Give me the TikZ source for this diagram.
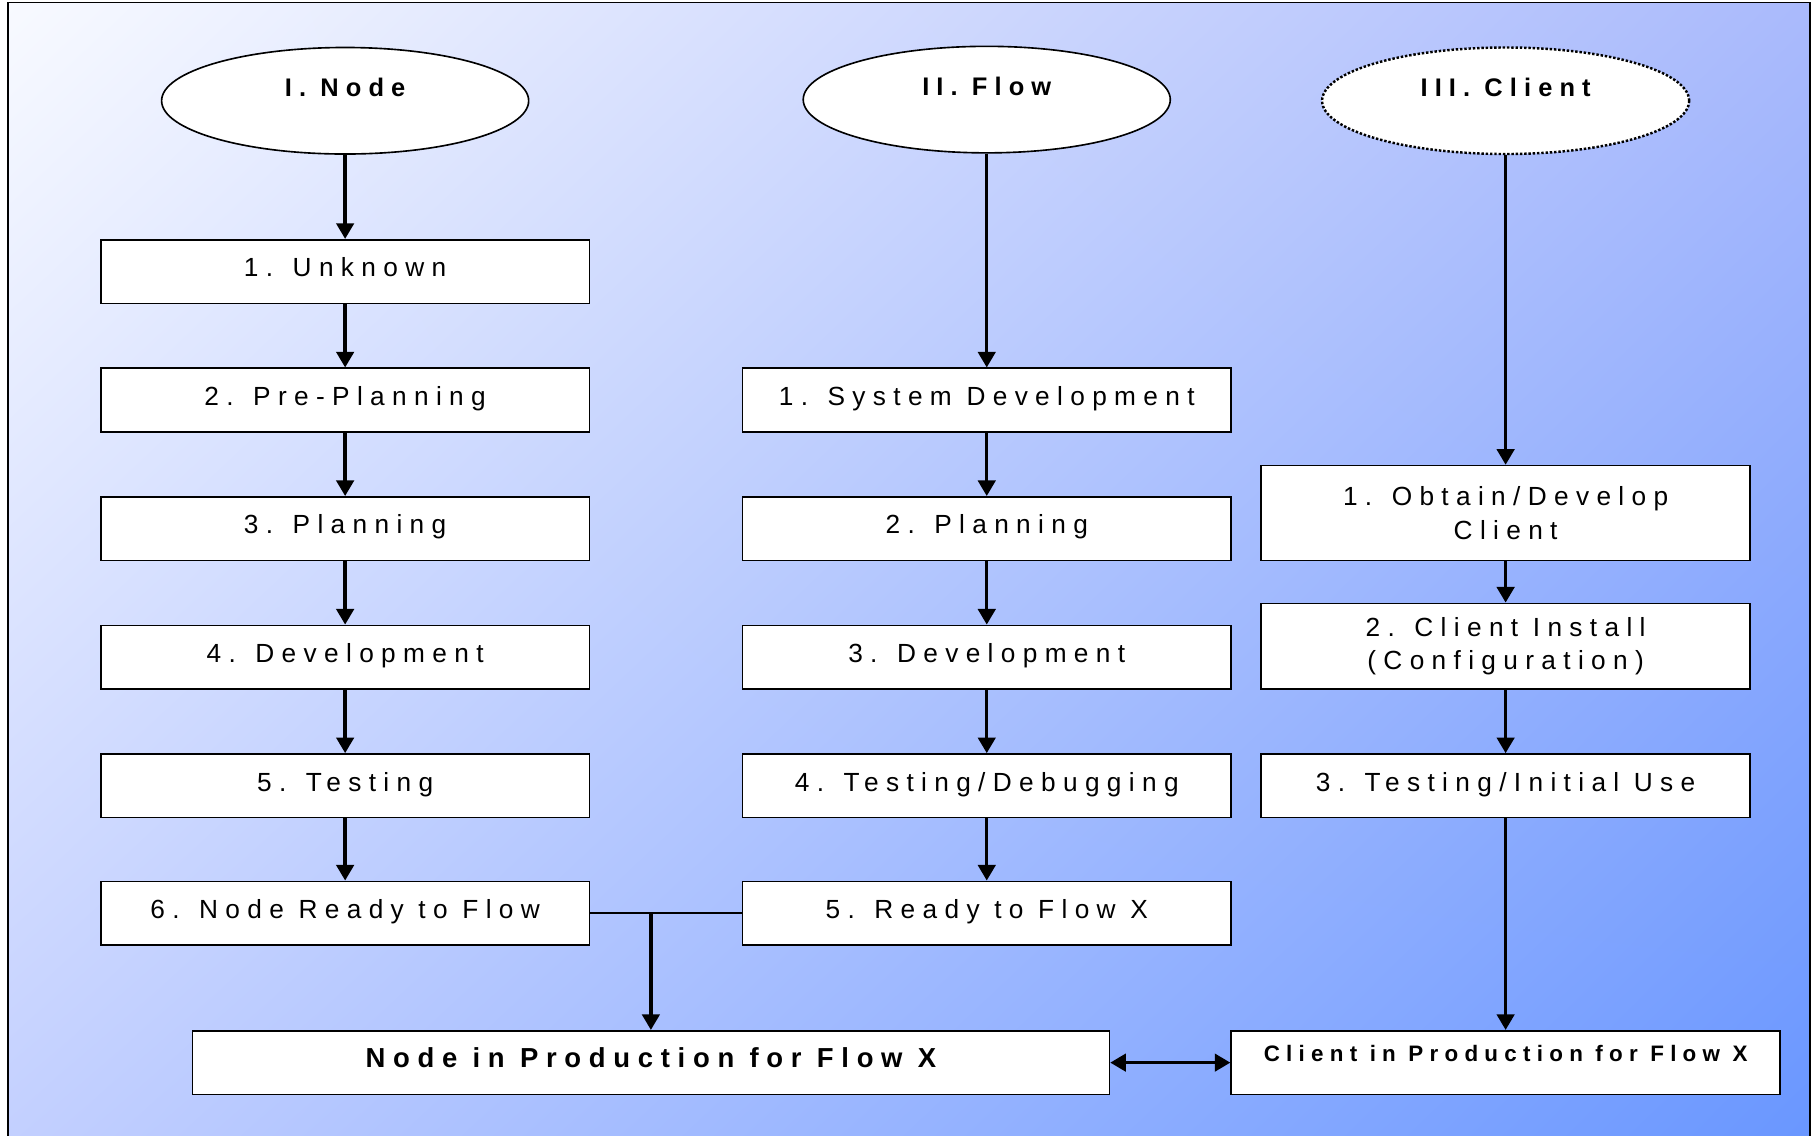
\documentclass[tikz,border=0pt]{standalone}
\usepackage{fontspec}
\setmainfont{Liberation Sans}[LetterSpace=28]
\usetikzlibrary{arrows.meta,shapes.geometric,shadings}
\definecolor{bgul}{RGB}{248,250,255}
\definecolor{bgur}{RGB}{170,186,252}
\definecolor{bgll}{RGB}{194,207,255}
\definecolor{bglr}{RGB}{104,150,255}
\begin{document}
\begin{tikzpicture}[x=0.02cm,y=-0.02cm,
  phase/.style={ellipse,draw,fill=white,line width=0.8pt,minimum width=6.34cm,minimum height=1.84cm,inner sep=0pt,
    font=\fontsize{12.5}{14}\selectfont\bfseries,text height=9pt,text depth=13pt},
  stage/.style={rectangle,draw,fill=white,line width=0.8pt,minimum width=8.44cm,minimum height=1.1cm,inner sep=0pt,
    font=\fontsize{12.9}{16.4}\selectfont,text height=9.2pt,text depth=4.1pt},
  stagetwo/.style={rectangle,draw,fill=white,line width=0.8pt,minimum width=8.44cm,inner sep=0pt,
    font=\fontsize{12.9}{16.4}\selectfont,align=center},
  arr/.style={line width=1.7pt,-{Triangle[length=0.27cm,width=0.3cm]}},
  dblarr/.style={line width=1.7pt,{Triangle[length=0.27cm,width=0.3cm]}-{Triangle[length=0.27cm,width=0.3cm]}},
  link/.style={line width=1.1pt}]

\clip (0,0) rectangle (1568,980);
\shade[upper left=bgul,upper right=bgur,lower left=bgll,lower right=bglr] (7,2) rectangle (1563,1000);
\draw[line width=0.8pt] (7,1000)--(7,2)--(1563,2)--(1563,1000);

% headers
\node (node0) at (298,87) [phase]{I. Node};
\node (flow0) at (852,86) [phase]{II. Flow};
\node (client0) at (1300,87) [phase,line width=1.2pt,dash pattern=on 1.2pt off 0.9pt]{III. Client};

% I. Node
\node (node1) at (298,234.5) [stage]{1. Unknown};
\node (node2) at (298,345.5) [stage]{2. Pre-Planning};
\node (node3) at (298,456.5) [stage]{3. Planning};
\node (node4) at (298,567.5) [stage]{4. Development};
\node (node5) at (298,678.5) [stage]{5. Testing};
\node (node6) at (298,788.5) [stage]{6. Node Ready to Flow};

% II. Flow
\node (flow1) at (852,345.5) [stage]{1. System Development};
\node (flow2) at (852,456.5) [stage]{2. Planning};
\node (flow3) at (852,567.5) [stage]{3. Development};
\node (flow4) at (852,678.5) [stage]{4. Testing/Debugging};
\node (flow5) at (852,788.5) [stage]{5. Ready to Flow X};

% III. Client
\node (client1) at (1300,443) [stagetwo,minimum height=1.64cm]{1. Obtain/Develop\\Client};
\node (client2) at (1300,558) [stagetwo,minimum height=1.48cm]{2. Client Install\\(Configuration)};
\node (client3) at (1300,678.5) [stage]{3. Testing/Initial Use};

% production
\node (nodeprod) at (562,917.5) [stage,minimum width=15.84cm,font=\fontsize{13.5}{16.4}\selectfont\bfseries]{Node in Production for Flow X};
\node (clientprod) at (1300,917.5) [stage,minimum width=9.48cm,font=\fontsize{11}{13}\selectfont\bfseries,text height=7.9pt,text depth=8.9pt]{Client in Production for Flow X};

\draw[arr] (node0)--(node1);
\draw[arr] (node1)--(node2);
\draw[arr] (node2)--(node3);
\draw[arr] (node3)--(node4);
\draw[arr] (node4)--(node5);
\draw[arr] (node5)--(node6);

\draw[arr] (flow0)--(flow1);
\draw[arr] (flow1)--(flow2);
\draw[arr] (flow2)--(flow3);
\draw[arr] (flow3)--(flow4);
\draw[arr] (flow4)--(flow5);

\draw[arr] (client0)--(client1);
\draw[arr] (client1)--(client2);
\draw[arr] (client2)--(client3);
\draw[arr] (client3)--(clientprod);

\coordinate (join) at (562,788.5);
\draw[link] (node6.east)--(flow5.west);
\draw[arr] (join)--(nodeprod);
\draw[dblarr] (nodeprod)--(clientprod);

\end{tikzpicture}
\end{document}
